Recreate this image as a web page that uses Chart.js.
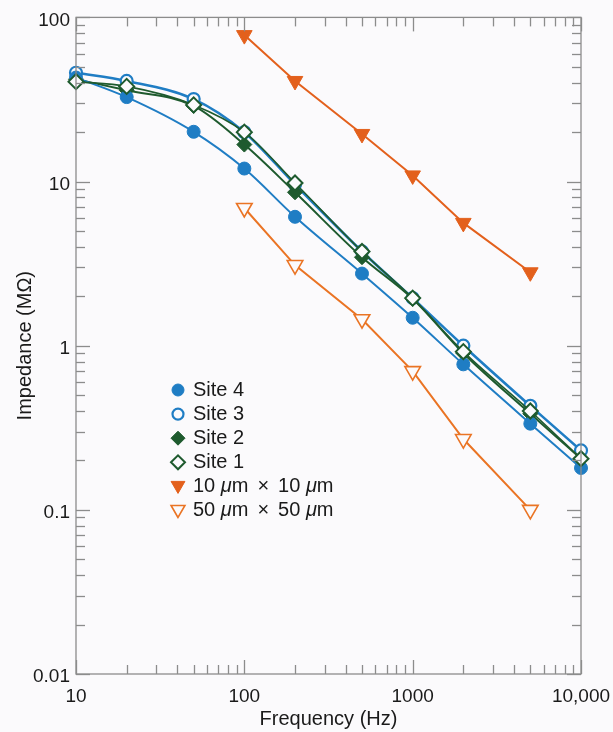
<!DOCTYPE html>
<html>
<head>
<meta charset="utf-8">
<script src="https://cdn.jsdelivr.net/npm/chart.js@4.4.0/dist/chart.umd.min.js"></script>
<style>
  html, body { margin: 0; padding: 0; background: #fbfafc; }
  #wrap { width: 613px; height: 732px; }
</style>
</head>
<body>
<div id="wrap"><canvas id="grafico" width="613" height="732"></canvas></div>
<script>
// dados
const freqSites = [10, 20, 50, 100, 200, 500, 1000, 2000, 5000, 10000];
const site4 = [43, 32.7, 20.1, 12.0, 6.1, 2.75, 1.48, 0.77, 0.335, 0.18];
const site3 = [46, 41, 31.8, 20, 9.6, 3.75, 1.95, 1.0, 0.43, 0.23];
const site2 = [42, 36, 28.9, 16.8, 8.6, 3.46, 1.93, 0.9, 0.385, 0.205];
const site1 = [40.6, 38, 29.3, 20, 9.8, 3.75, 1.95, 0.92, 0.4, 0.205];
const freqPads = [100, 200, 500, 1000, 2000, 5000];
const pad10 = [78, 41, 19.5, 10.9, 5.6, 2.8];
const pad50 = [6.9, 3.1, 1.45, 0.7, 0.27, 0.1];
const legendas = ["Site 4", "Site 3", "Site 2", "Site 1", "10 μm × 10 μm", "50 μm × 50 μm"];
const xTicks = [10, 100, 1000, 10000];
const yTicks = [0.01, 0.1, 1, 10, 100];

const FONTE = "'Liberation Sans', Arial, sans-serif";
const FUNDO = "#fbfafc";
const AZUL = "#1f7dc4";
const VERDE = "#1e5a2e";
const LARANJA = "#e3601c";
const LARANJA2 = "#ea7424";

const pares = (xs, ys) => xs.map((x, i) => ({ x: x, y: ys[i] }));

// ticks para dentro nos quatro lados + moldura
const ticksInternos = {
  id: "ticksInternos",
  afterDatasetsDraw(chart) {
    const { ctx, chartArea: a, scales: { x, y } } = chart;
    ctx.save();
    ctx.strokeStyle = "#8c8c8c";
    ctx.lineWidth = 1.3;
    ctx.strokeRect(a.left, a.top, a.right - a.left, a.bottom - a.top);
    const linha = (x1, y1, x2, y2) => {
      ctx.beginPath(); ctx.moveTo(x1, y1); ctx.lineTo(x2, y2); ctx.stroke();
    };
    for (let d = 10; d <= 10000; d *= 10) {
      for (let m = 1; m < 10; m++) {
        const v = d * m;
        if (v > 10000) break;
        const px = Math.round(x.getPixelForValue(v)) + 0.5;
        const len = m === 1 ? 14 : 9;
        linha(px, a.bottom, px, a.bottom - len);
        linha(px, a.top, px, a.top + len);
      }
    }
    for (let d = 0.01; d <= 100.001; d *= 10) {
      for (let m = 1; m < 10; m++) {
        const v = d * m;
        if (v > 100.001) break;
        const py = Math.round(y.getPixelForValue(v)) + 0.5;
        const len = m === 1 ? 14 : 9;
        linha(a.left, py, a.left + len, py);
        linha(a.right, py, a.right - len, py);
      }
    }
    ctx.restore();
  }
};

// legenda dentro da área do gráfico
const legendaInterna = {
  id: "legendaInterna",
  afterDraw(chart) {
    const { ctx } = chart;
    ctx.save();
    chart.data.datasets.forEach((ds, i) => {
      const cy = 390 + i * 24.1;
      const cx = 178;
      ctx.fillStyle = ds.pointBackgroundColor;
      ctx.strokeStyle = ds.pointBorderColor;
      ctx.lineWidth = ds.pointBorderWidth;
      const r = ds.pointStyle === "triangle" ? 8 : ds.pointRadius - 0.5;
      Chart.helpers.drawPoint(ctx, {
        pointStyle: ds.pointStyle,
        radius: r,
        rotation: ds.pointRotation || 0,
        borderWidth: ds.pointBorderWidth
      }, cx, cy + (ds.pointStyle === "triangle" ? -1 : 0));
      ctx.fillStyle = "#1a1a1a";
      ctx.textBaseline = "middle";
      let tx = 193;
      ds.label.split(/(μ| × )/).forEach(parte => {
        if (!parte) return;
        ctx.font = (parte === "μ" ? "italic " : "") + "20px " + FONTE;
        if (parte === " × ") {
          ctx.fillText("×", tx + 9, cy);
          tx += ctx.measureText("×").width + 18;
          return;
        }
        ctx.fillText(parte, tx, cy);
        tx += ctx.measureText(parte).width;
      });
    });
    ctx.restore();
  }
};

const base = { fill: false, clip: false, pointHoverRadius: 6 };

new Chart(document.getElementById("grafico").getContext("2d"), {
  type: "line",
  data: {
    datasets: [
      { ...base, label: legendas[0], data: pares(freqSites, site4), borderColor: AZUL, borderWidth: 2,
        pointStyle: "circle", pointRadius: 6.5, pointBackgroundColor: AZUL, pointBorderColor: AZUL, pointBorderWidth: 1,
        cubicInterpolationMode: "monotone", order: 2 },
      { ...base, label: legendas[1], data: pares(freqSites, site3), borderColor: AZUL, borderWidth: 2.6,
        pointStyle: "circle", pointRadius: 6, pointBackgroundColor: FUNDO, pointBorderColor: AZUL, pointBorderWidth: 2.2,
        cubicInterpolationMode: "monotone", order: 4 },
      { ...base, label: legendas[2], data: pares(freqSites, site2), borderColor: VERDE, borderWidth: 2,
        pointStyle: "rectRot", pointRadius: 7.5, pointBackgroundColor: VERDE, pointBorderColor: VERDE, pointBorderWidth: 1,
        cubicInterpolationMode: "monotone", order: 3 },
      { ...base, label: legendas[3], data: pares(freqSites, site1), borderColor: VERDE, borderWidth: 1.6,
        pointStyle: "rectRot", pointRadius: 7.5, pointBackgroundColor: FUNDO, pointBorderColor: VERDE, pointBorderWidth: 2,
        cubicInterpolationMode: "monotone", order: 1 },
      { ...base, label: legendas[4], data: pares(freqPads, pad10), borderColor: LARANJA, borderWidth: 2,
        pointStyle: "triangle", pointRotation: 180, pointRadius: 9, pointBackgroundColor: LARANJA, pointBorderColor: LARANJA,
        pointBorderWidth: 1, tension: 0, order: 5 },
      { ...base, label: legendas[5], data: pares(freqPads, pad50), borderColor: LARANJA2, borderWidth: 2,
        pointStyle: "triangle", pointRotation: 180, pointRadius: 9, pointBackgroundColor: FUNDO, pointBorderColor: LARANJA2,
        pointBorderWidth: 1.6, tension: 0, order: 6 }
    ]
  },
  options: {
    responsive: false,
    animation: false,
    layout: { padding: { top: 16, right: 32, bottom: 0, left: 0 } },
    plugins: {
      legend: { display: false },
      tooltip: { enabled: false }
    },
    scales: {
      x: {
        type: "logarithmic",
        min: 10,
        max: 10000,
        grid: { display: false, tickLength: 9 },
        border: { display: false },
        afterBuildTicks: s => { s.ticks = xTicks.map(v => ({ value: v })); },
        afterFit: s => { s.height = 58; },
        ticks: {
          autoSkip: false,
          maxRotation: 0,
          padding: 2,
          color: "#1a1a1a",
          font: { family: FONTE, size: 19 },
          callback: v => v >= 10000 ? "10,000" : String(v)
        },
        title: {
          display: true,
          text: "Frequency (Hz)",
          color: "#1a1a1a",
          font: { family: FONTE, size: 20 },
          padding: { top: 0, bottom: 1 }
        }
      },
      y: {
        type: "logarithmic",
        min: 0.01,
        max: 100,
        grid: { display: false, drawTicks: false },
        border: { display: false },
        afterBuildTicks: s => { s.ticks = yTicks.map(v => ({ value: v })); },
        afterFit: s => { s.width = 76; },
        ticks: {
          autoSkip: false,
          padding: 6,
          labelOffset: 3,
          color: "#1a1a1a",
          font: { family: FONTE, size: 19 },
          callback: v => String(v)
        },
        title: {
          display: true,
          text: "Impedance (MΩ)",
          color: "#1a1a1a",
          font: { family: FONTE, size: 20 },
          padding: { top: 13, bottom: 0 }
        }
      }
    }
  },
  plugins: [ticksInternos, legendaInterna]
});
</script>
</body>
</html>
